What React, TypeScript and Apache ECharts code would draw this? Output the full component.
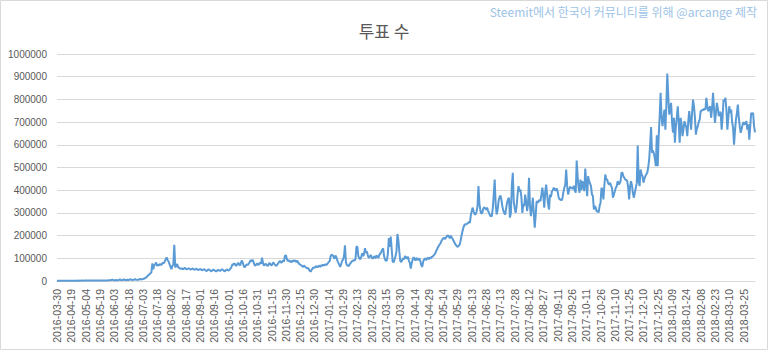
import React, { useEffect, useRef } from "react";
import * as echarts from "echarts";

const TITLE = "투표 수";
const CREDIT = "Steemit에서 한국어 커뮤니티를 위해 @arcange 제작";
const FIRST_DATE = "2016-03-30";
const DAILY_START = { y: 2016, m: 3, d: 5 }; // 2016-04-05, daily afterwards
const Y_MIN = 0;
const Y_MAX = 1000000;
const Y_STEP = 100000;
const LABEL_EVERY = 15;

// daily vote counts, in thousands
const VOTES_K = [
  0.3, 0.6, 0.8, 0.7, 0.9, 1.1, 0.9, 1.2, 1.0, 1.3,
  1.1, 1.4, 1.2, 1.0, 1.3, 1.5, 1.2, 1.4, 1.6, 1.3,
  1.5, 1.7, 1.4, 1.6, 1.8, 1.5, 1.7, 1.9, 1.6, 1.8,
  2.0, 1.7, 1.9, 2.1, 1.8, 2.0, 2.2, 1.9, 2.1, 2.3,
  2.0, 2.2, 2.4, 2.1, 2.3, 2.5, 2.2, 2.4, 2.6, 2.3,
  2.5, 2.7, 2.4, 2.6, 3.0, 2.8, 3.5, 4.2, 6.5, 3.8,
  3.2, 3.6, 4.0, 3.4, 3.8, 4.6, 7.0, 4.2, 3.6, 4.4,
  7.5, 4.8, 4.0, 4.5, 5.2, 4.6, 5.0, 8.0, 5.4, 4.8,
  5.2, 5.8, 8.5, 5.6, 5.0, 5.8, 6.4, 9.0, 6.8, 7.5,
  8.5, 10, 12, 14, 18, 22, 26, 30, 34, 38,
  78, 52, 70, 74, 82, 66, 72, 68, 76, 70,
  74, 82, 78, 86, 96, 104, 92, 86, 74, 62,
  52, 66, 72, 160, 60, 66, 75, 62, 58, 55,
  54, 56, 52, 54, 58, 55, 51, 53, 56, 54,
  50, 52, 55, 53, 49, 51, 54, 52, 48, 50,
  53, 51, 47, 49, 52, 50, 46, 44, 48, 51,
  49, 45, 43, 47, 50, 48, 44, 42, 46, 49,
  47, 44, 48, 52, 49, 45, 43, 47, 51, 48,
  46, 50, 55, 62, 75, 70, 78, 72, 66, 74,
  80, 73, 68, 82, 90, 78, 64, 60, 68, 74,
  70, 76, 82, 92, 86, 94, 84, 72, 67, 73,
  78, 70, 74, 82, 76, 103, 80, 68, 72, 76,
  70, 66, 74, 80, 72, 68, 76, 82, 74, 70,
  66, 72, 78, 85, 88, 80, 84, 90, 86, 110,
  114, 98, 88, 92, 85, 88, 82, 90, 86, 92,
  88, 84, 90, 80, 76, 72, 70, 66, 62, 68,
  64, 60, 56, 58, 52, 46, 41, 48, 55, 60,
  58, 62, 66, 60, 64, 68, 62, 70, 66, 72,
  68, 74, 70, 73, 78, 84, 88, 110, 116, 113,
  108, 98, 112, 105, 90, 80, 72, 62, 75, 88,
  95, 110, 157, 82, 70, 68, 66, 74, 80, 86,
  88, 92, 90, 95, 150, 152, 110, 100, 96, 105,
  122, 110, 118, 145, 124, 130, 112, 102, 108, 115,
  104, 98, 105, 110, 100, 112, 108, 102, 115, 120,
  128, 137, 144, 110, 95, 88, 92, 120, 189, 150,
  196, 140, 86, 82, 95, 110, 130, 207, 180, 130,
  88, 84, 92, 100, 96, 110, 104, 98, 107, 90,
  80, 55, 78, 95, 105, 98, 90, 102, 96, 92,
  100, 88, 70, 62, 85, 95, 100, 92, 98, 102,
  96, 104, 100, 106, 108, 112, 118, 125, 135, 144,
  152, 159, 165, 175, 182, 188, 189, 185, 192, 198,
  202, 195, 188, 200, 192, 185, 176, 168, 160, 155,
  150, 154, 158, 172, 195, 215, 232, 245, 250, 249,
  252, 255, 260, 256, 290, 310, 323, 305, 295, 293,
  305, 330, 418, 340, 310, 296, 300, 318, 325, 320,
  315, 323, 310, 300, 290, 285, 286, 320, 380, 447,
  340, 293, 310, 350, 368, 377, 360, 330, 310, 300,
  293, 320, 345, 360, 367, 279, 300, 420, 477, 350,
  320, 300, 330, 380, 418, 395, 403, 370, 300, 340,
  330, 381, 350, 308, 340, 455, 330, 286, 320, 367,
  300, 235, 290, 352, 345, 350, 358, 352, 380, 411,
  375, 323, 395, 425, 380, 340, 315, 381, 370, 395,
  400, 411, 403, 398, 408, 396, 370, 359, 360, 355,
  362, 390, 410, 425, 491, 420, 381, 400, 415, 411,
  410, 405, 420, 398, 389, 531, 460, 410, 389, 447,
  400, 440, 420, 396, 495, 433, 374, 462, 440, 430,
  418, 381, 374, 315, 330, 323, 305, 310, 301, 330,
  345, 411, 400, 359, 420, 469, 447, 447, 430, 425,
  433, 420, 411, 367, 380, 395, 411, 418, 440, 425,
  430, 440, 477, 477, 460, 455, 447, 445, 440, 411,
  359, 418, 440, 420, 385, 367, 390, 411, 430, 597,
  440, 418, 491, 470, 462, 433, 450, 462, 470, 477,
  500, 535, 600, 678, 565, 575, 560, 540, 506, 642,
  506, 638, 726, 829, 720, 682, 720, 755, 667, 770,
  914, 820, 733, 760, 785, 700, 653, 719, 609, 680,
  720, 770, 700, 609, 719, 690, 638, 670, 704, 690,
  675, 638, 700, 748, 710, 667, 740, 799, 770, 720,
  645, 670, 682, 700, 711, 748, 750, 755, 752, 760,
  755, 807, 770, 748, 760, 770, 719, 760, 829, 760,
  697, 740, 785, 760, 726, 745, 741, 667, 720, 799,
  790, 807, 755, 667, 720, 770, 740, 755, 700, 675,
  601, 660, 711, 740, 777, 720, 682, 653, 670, 689,
  700, 689, 695, 704, 667, 690, 623, 680, 741, 735,
  741, 682, 655,
];

function buildDates(n: number): string[] {
  const out = [FIRST_DATE];
  const start = Date.UTC(DAILY_START.y, DAILY_START.m, DAILY_START.d);
  for (let k = 0; out.length < n; k++) {
    const d = new Date(start + k * 86400000);
    const mm = String(d.getUTCMonth() + 1).padStart(2, "0");
    const dd = String(d.getUTCDate()).padStart(2, "0");
    out.push(`${d.getUTCFullYear()}-${mm}-${dd}`);
  }
  return out;
}

const DATES = buildDates(VOTES_K.length);
const VOTES = VOTES_K.map((v) => Math.round(v * 1000));

export default function App() {
  const ref = useRef<HTMLDivElement>(null);
  useEffect(() => {
    document.body.style.margin = "0";
    const chart = echarts.init(ref.current!, null, { renderer: "svg" });
    const gray = "#595959";
    chart.setOption({
      animation: false,
      backgroundColor: "#ffffff",
      textStyle: { fontFamily: "Liberation Sans, Arial, sans-serif" },
      title: {
        text: TITLE,
        left: "center",
        top: 17,
        textStyle: {
          fontFamily: "Noto Sans CJK KR",
          fontSize: 17,
          fontWeight: "normal",
          color: gray,
        },
      },
      graphic: [
        {
          type: "rect",
          shape: { x: 0.5, y: 0.5, width: 767, height: 349 },
          style: { fill: "none", stroke: "#d9d9d9", lineWidth: 1 },
          silent: true,
        },
        {
          type: "text",
          right: 11,
          top: 5,
          style: {
            text: CREDIT,
            fontFamily: "Noto Sans CJK KR",
            fontSize: 12,
            fill: "#9dc3e6",
          },
        },
      ],
      grid: { left: 57, right: 13, top: 54, bottom: 69, containLabel: false },
      xAxis: {
        type: "category",
        data: DATES,
        boundaryGap: false,
        axisLine: { lineStyle: { color: "#d9d9d9", width: 1 } },
        axisTick: { show: false },
        axisLabel: {
          interval: LABEL_EVERY - 1,
          rotate: 90,
          fontSize: 10.5,
          color: gray,
          margin: 8,
        },
        splitLine: { show: false },
      },
      yAxis: {
        type: "value",
        min: Y_MIN,
        max: Y_MAX,
        interval: Y_STEP,
        axisLine: { show: false },
        axisTick: { show: false },
        axisLabel: {
          fontSize: 10,
          color: gray,
          margin: 10,
          formatter: (v: number) => String(v),
        },
        splitLine: { lineStyle: { color: "#d9d9d9", width: 1 } },
      },
      series: [
        {
          type: "line",
          data: VOTES,
          showSymbol: false,
          symbol: "none",
          lineStyle: { color: "#5b9bd5", width: 2 },
          itemStyle: { color: "#5b9bd5" },
        },
      ],
    });
    return () => chart.dispose();
  }, []);
  return <div ref={ref} style={{ width: 768, height: 350 }} />;
}
